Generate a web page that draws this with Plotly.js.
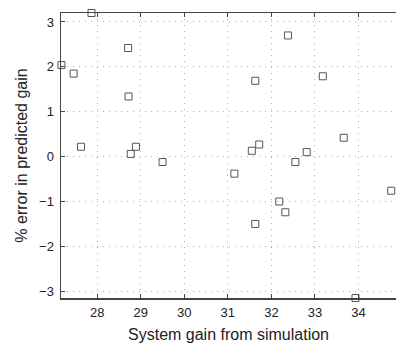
<!DOCTYPE html>
<html>
<head>
<meta charset="utf-8">
<script src="https://cdn.plot.ly/plotly-3.0.1.min.js"></script>
<style>html,body{margin:0;padding:0;background:#fff;}#chart{width:396px;height:343px;}</style>
</head>
<body>
<div id="chart"></div>
<script>
const simGain = [27.87, 28.71, 27.18, 27.46, 28.72, 27.63, 28.77, 28.89, 29.50,
                 32.38, 31.63, 33.18, 33.66, 31.72, 31.55, 32.81, 32.55, 31.15,
                 34.75, 32.18, 32.32, 31.63, 33.93];
const pctError = [3.20, 2.42, 2.04, 1.85, 1.34, 0.22, 0.06, 0.22, -0.12,
                  2.70, 1.69, 1.79, 0.42, 0.27, 0.13, 0.10, -0.12, -0.38,
                  -0.76, -1.00, -1.24, -1.50, -3.15];
const xTicks = [28, 29, 30, 31, 32, 33, 34];
const yTicks = [-3, -2, -1, 0, 1, 2, 3];

const fontFam = 'Liberation Sans, Arial, sans-serif';
Plotly.newPlot('chart', [{
  x: simGain, y: pctError, type: 'scatter', mode: 'markers',
  marker: {symbol: 'square-open', size: 7, color: '#555', line: {width: 1, color: '#555'}},
  cliponaxis: false, hoverinfo: 'none'
}], {
  width: 396, height: 343,
  margin: {l: 61, r: 0, t: 13, b: 45},
  paper_bgcolor: '#fff', plot_bgcolor: '#fff',
  showlegend: false,
  font: {family: fontFam, size: 13, color: '#222'},
  xaxis: {
    range: [27.17, 34.86], tickvals: xTicks, ticktext: xTicks.map(String),
    ticks: 'inside', ticklen: 4, tickcolor: '#444', tickwidth: 1,
    showline: true, linecolor: '#444', linewidth: 1.5, mirror: 'ticks',
    showgrid: true, gridcolor: '#b0b0b0', griddash: '1px,5px', gridwidth: 1,
    zeroline: false, tickfont: {size: 13, color: '#222'}, ticklabelstandoff: 2,
    title: {text: 'System gain from simulation', font: {size: 16, color: '#222'}, standoff: 11}
  },
  yaxis: {
    range: [-3.15, 3.2], tickvals: yTicks, ticktext: yTicks.map(v => v < 0 ? '\u2212' + Math.abs(v) : String(v)),
    ticks: 'inside', ticklen: 4, tickcolor: '#444', tickwidth: 1,
    showline: true, linecolor: '#444', linewidth: 1.5,
    showgrid: true, gridcolor: '#b0b0b0', griddash: '1px,5px', gridwidth: 1,
    zeroline: false, tickfont: {size: 13, color: '#222'}, ticklabelstandoff: 3,
    title: {text: '% error in predicted gain', font: {size: 16, color: '#222'}, standoff: 7}
  }
}, {displayModeBar: false, staticPlot: true});
</script>
</body>
</html>
